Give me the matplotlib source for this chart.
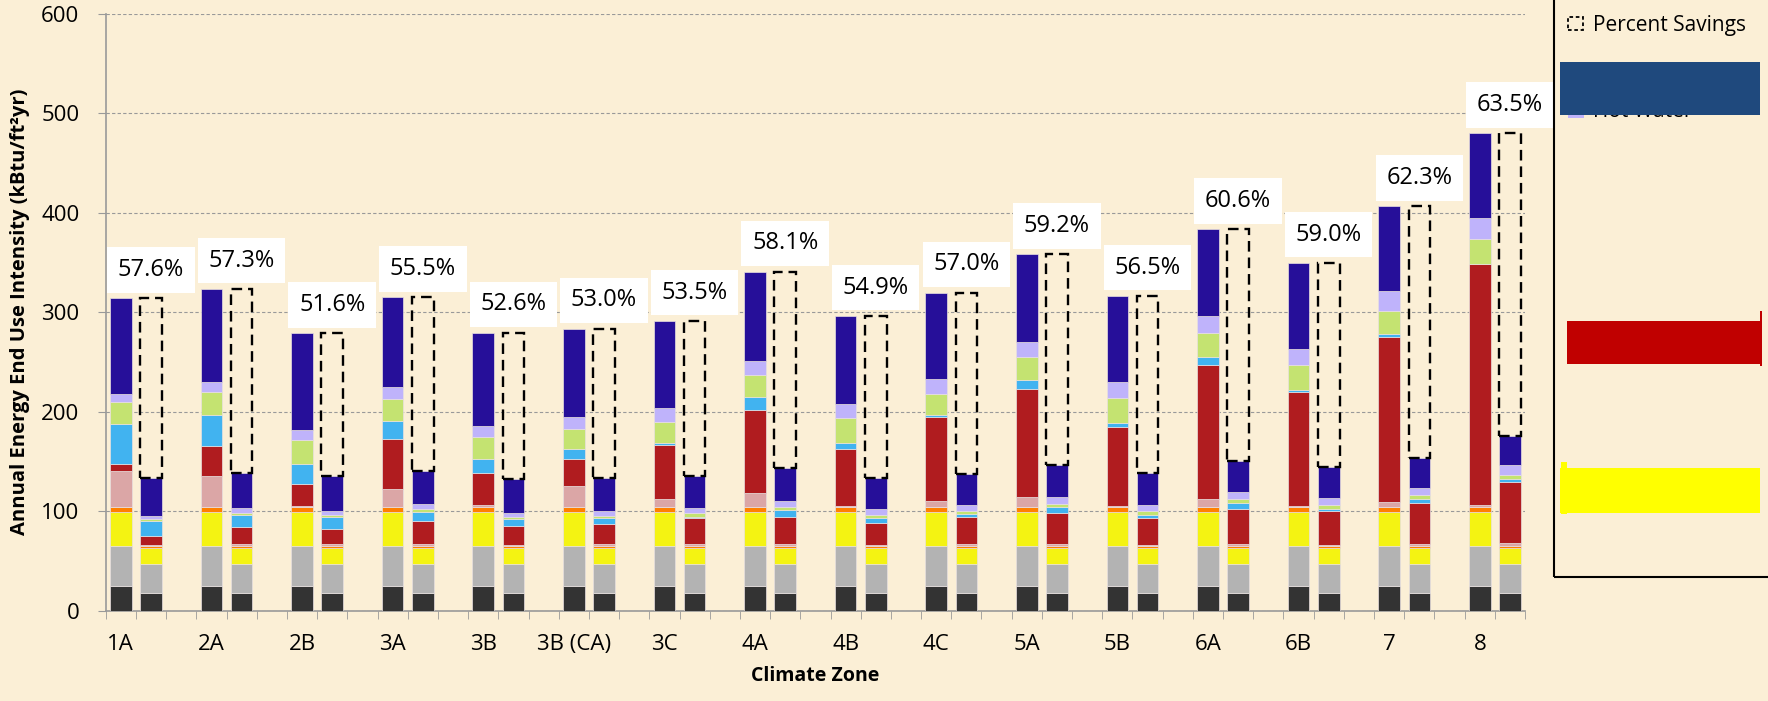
import numpy as np
import matplotlib.pyplot as plt
from matplotlib.patches import Rectangle

plt.rcParams['font.family'] = ['Open Sans', 'DejaVu Sans']

zones = ['1A', '2A', '2B', '3A', '3B', '3B (CA)', '3C', '4A', '4B', '4C',
         '5A', '5B', '6A', '6B', '7', '8']
savings = ['57.6%', '57.3%', '51.6%', '55.5%', '52.6%', '53.0%', '53.5%', '58.1%',
           '54.9%', '57.0%', '59.2%', '56.5%', '60.6%', '59.0%', '62.3%', '63.5%']

# baseline buildings, kBtu/ft2yr per end use, bottom to top
base_dgray = [25, 25, 25, 25, 25, 25, 25, 25, 25, 25, 25, 25, 25, 25, 25, 25]
base_lgray = [40, 40, 40, 40, 40, 40, 40, 40, 40, 40, 40, 40, 40, 40, 40, 40]
base_yellow = [34.5, 34.5, 34.5, 34.5, 34.5, 34.5, 34.5, 34.5, 34.5, 34.5, 34.5, 34.5, 34.5, 34.5, 34.5, 34.5]
base_orange = [5, 5, 5, 5, 5, 5, 5, 5, 5, 5, 5, 5, 5, 5, 5, 5]
base_pink = [35.9, 30.5, 1.2, 17.8, 1.3, 20.8, 7.8, 13.5, 1.0, 5.7, 9.4, 1.0, 7.8, 0.9, 4.9, 2.1]
base_red = [7.0, 30.5, 21.7, 50.7, 32.9, 27.2, 54.2, 83.7, 57.3, 84.1, 108.6, 79.5, 134.6, 114.2, 165.9, 241.4]
base_blue = [40.6, 31.5, 20.4, 17.3, 13.4, 10.0, 2.3, 13.1, 6.0, 2.4, 9.0, 4.0, 7.8, 2.0, 3.1, 0.8]
base_green = [22.0, 22.7, 24.2, 22.1, 22.8, 20.1, 21.2, 22.1, 25.2, 21.1, 23.2, 25.0, 24.1, 25.0, 23.1, 24.7]
base_lav = [8.0, 10.3, 9.5, 12.1, 10.7, 12.1, 13.4, 14.1, 13.4, 14.7, 15.3, 15.5, 17.4, 16.7, 19.5, 21.5]
base_indigo = [96.0, 93.4, 97.3, 90.5, 93.8, 88.7, 87.8, 89.7, 88.8, 87.1, 88.2, 86.8, 87.1, 86.3, 85.5, 84.7]

# advanced buildings
adv_dgray = [17.5, 17.5, 17.5, 17.5, 17.5, 17.5, 17.5, 17.5, 17.5, 17.5, 17.5, 17.5, 17.5, 17.5, 17.5, 17.5]
adv_lgray = [29.3, 29.3, 29.3, 29.3, 29.3, 29.3, 29.3, 29.3, 29.3, 29.3, 29.3, 29.3, 29.3, 29.3, 29.3, 29.3]
adv_yellow = [15.8, 15.8, 15.8, 15.8, 15.8, 15.8, 15.8, 15.8, 15.8, 15.8, 15.8, 15.8, 15.8, 15.8, 15.8, 15.8]
adv_orange = [2.0, 2.0, 2.0, 2.0, 2.0, 2.0, 2.0, 2.0, 2.0, 2.0, 2.0, 2.0, 2.0, 2.0, 2.0, 2.0]
adv_pink = [1.4, 2.0, 2.0, 2.1, 1.4, 2.4, 2.4, 2.4, 1.7, 2.4, 2.1, 1.8, 2.4, 1.8, 2.2, 3.0]
adv_red = [9.0, 17.4, 15.4, 23.8, 19.1, 20.1, 25.8, 26.8, 22.1, 27.5, 31.8, 27.1, 35.5, 33.8, 41.4, 61.7]
adv_blue = [15.0, 11.7, 12.0, 8.4, 6.7, 5.7, 1.7, 7.4, 4.4, 2.3, 6.0, 2.6, 6.0, 2.4, 4.0, 3.2]
adv_green = [2.0, 2.6, 2.0, 3.0, 2.7, 2.3, 3.4, 2.6, 3.4, 3.1, 3.0, 4.1, 3.8, 3.6, 3.9, 4.3]
adv_lav = [3.0, 4.7, 4.0, 5.0, 4.0, 5.1, 5.6, 6.1, 5.7, 6.3, 6.4, 6.0, 6.7, 7.2, 7.2, 9.2]
adv_indigo = [38.4, 35.4, 35.4, 33.5, 34.2, 33.5, 31.9, 33.2, 31.8, 31.2, 32.2, 31.9, 31.8, 30.6, 30.6, 29.8]

colors = ['#333333', '#b3b3b3', '#f4f312', '#ff8000', '#dba6a6',
          '#b01c1f', '#41b3f0', '#c4e371', '#bfb3fb', '#260f99']
base_segs = [base_dgray, base_lgray, base_yellow, base_orange, base_pink,
             base_red, base_blue, base_green, base_lav, base_indigo]
adv_segs = [adv_dgray, adv_lgray, adv_yellow, adv_orange, adv_pink,
            adv_red, adv_blue, adv_green, adv_lav, adv_indigo]

bg = '#fbefd6'
fig = plt.figure(figsize=(17.68, 7.01), dpi=100, facecolor=bg)
ax = fig.add_axes([0.0598, 0.1288, 0.8028, 0.8516])
ax.set_facecolor(bg)

xb = 3 * np.arange(len(zones))
xa = xb + 1
w = 0.715

bot_b = np.zeros(len(zones))
bot_a = np.zeros(len(zones))
for c, sb, sa in zip(colors, base_segs, adv_segs):
    ax.bar(xb, sb, w, bottom=bot_b, color=c, edgecolor='#e8e0e0', linewidth=0.5, zorder=3)
    ax.bar(xa, sa, w, bottom=bot_a, color=c, edgecolor='#e8e0e0', linewidth=0.5, zorder=3)
    bot_b += np.array(sb)
    bot_a += np.array(sa)

# percent savings boxes
ax.bar(xa, bot_b - bot_a, w, bottom=bot_a, fill=False, edgecolor='black',
       linestyle=(0, (4.5, 2.5)), linewidth=1.7, zorder=4)

for x, top, s in zip(xa, bot_b, savings):
    ax.text(x, top + 28.5, s, ha='center', va='center', fontsize=17, zorder=5,
            bbox=dict(facecolor='white', edgecolor='none', boxstyle='square,pad=0.45'))

ax.set_xlim(-0.5, 3 * len(zones) - 1.5)
ax.set_ylim(0, 600)
ax.set_yticks(np.arange(0, 601, 100))
ax.yaxis.grid(True, color='#999999', linestyle=(0, (3, 2)), linewidth=0.8, zorder=0)
ax.set_xticks(xb)
ax.set_xticklabels(zones, fontsize=16)
ax.set_xticks(np.arange(-0.5, 3 * len(zones) - 1, 1), minor=True)
ax.tick_params(axis='x', which='major', length=0, pad=17)
ax.tick_params(axis='x', which='minor', length=5.5, color='#999999')
ax.tick_params(axis='y', labelsize=16, length=6, color='#999999', pad=13)
for sp in ['top', 'right']:
    ax.spines[sp].set_visible(False)
for sp in ['left', 'bottom']:
    ax.spines[sp].set_color('#999999')
    ax.spines[sp].set_linewidth(1.2)

ax.set_xlabel('Climate Zone', fontsize=14, fontweight='bold', labelpad=8)
ax.set_ylabel('Annual Energy End Use Intensity (kBtu/ft²yr)', fontsize=14.5,
              fontweight='bold', labelpad=8)

# legend box (mostly covered)
fig.patches.append(Rectangle((0.879, 0.1769), 0.3, 0.9, transform=fig.transFigure,
                             fill=False, edgecolor='black', linewidth=1.5))
fig.patches.append(Rectangle((0.887, 0.957), 0.0085, 0.0185, transform=fig.transFigure,
                             fill=False, edgecolor='black', linestyle=(0, (2, 1.5)), linewidth=1.3))
fig.text(0.901, 0.964, 'Percent Savings', fontsize=15, va='center', ha='left')
fig.text(0.901, 0.841, 'Hot Water', fontsize=15, va='center', ha='left')
fig.patches.append(Rectangle((0.887, 0.831), 0.009, 0.009, transform=fig.transFigure,
                             facecolor='#bfb3fb', edgecolor='none'))
fig.patches.append(Rectangle((0.8824, 0.836), 0.1131, 0.0756, transform=fig.transFigure,
                             facecolor='#1f497d', edgecolor='none', zorder=10))
fig.patches.append(Rectangle((0.8863, 0.4807), 0.1092, 0.0613, transform=fig.transFigure,
                             facecolor='#c00000', edgecolor='none', zorder=10))
fig.patches.append(Rectangle((0.9955, 0.478), 0.0012, 0.078, transform=fig.transFigure,
                             facecolor='#c00000', edgecolor='none', zorder=10))
fig.patches.append(Rectangle((0.8824, 0.2682), 0.1131, 0.0642, transform=fig.transFigure,
                             facecolor='#ffff00', edgecolor='none', zorder=10))
fig.patches.append(Rectangle((0.8830, 0.2668), 0.0035, 0.0742, transform=fig.transFigure,
                             facecolor='#ffff00', edgecolor='none', zorder=10))

fig.savefig('out.png', dpi=100, facecolor=bg)
